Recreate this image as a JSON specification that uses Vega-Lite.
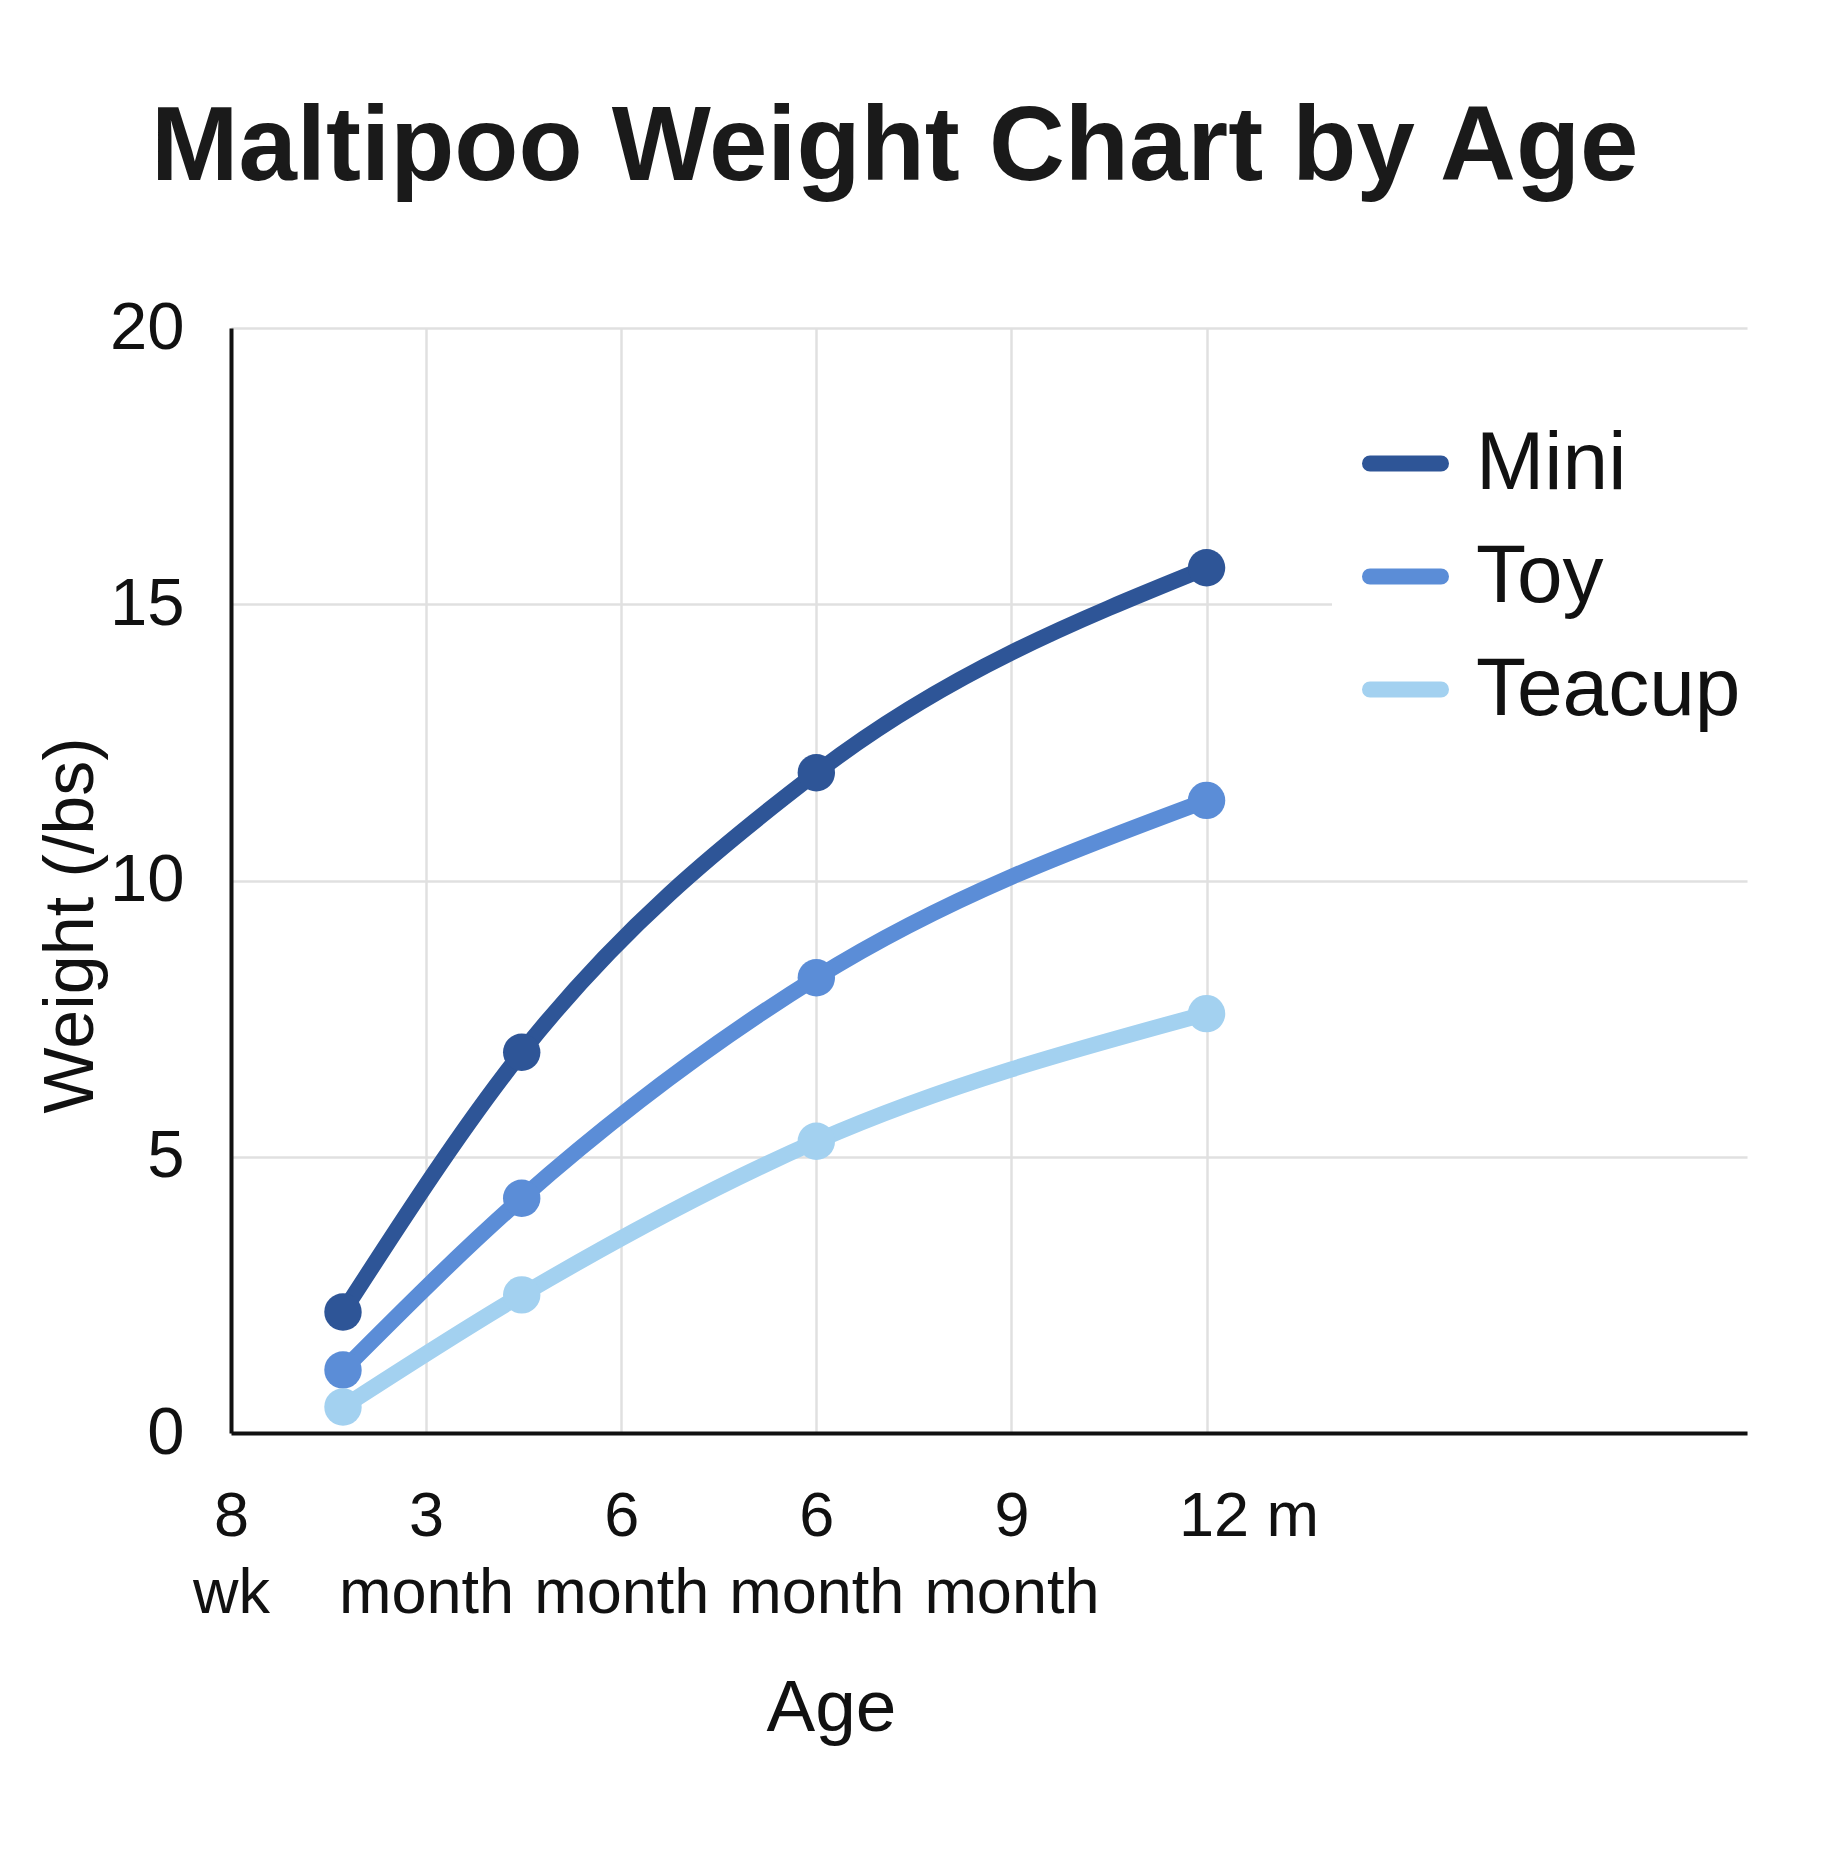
{
  "$schema": "https://vega.github.io/schema/vega-lite/v6.json",
  "width": 1516,
  "height": 1105,
  "autosize": {"type": "none"},
  "padding": {"left": 231, "top": 328, "right": 99, "bottom": 421},
  "background": "white",
  "title": {
    "text": "Maltipoo Weight Chart by Age",
    "anchor": "start",
    "frame": "group",
    "font": "Liberation Sans",
    "fontSize": 105,
    "fontWeight": "bold",
    "color": "#1a1a1a",
    "baseline": "alphabetic",
    "offset": 9,
    "dx": -80
  },
  "config": {"view": {"stroke": null}},
  "data": {
    "values": [
      {"size": "Mini", "age": 0.574, "weight": 2.19},
      {"size": "Mini", "age": 1.49, "weight": 6.89},
      {"size": "Mini", "age": 3, "weight": 11.95},
      {"size": "Mini", "age": 5, "weight": 15.66},
      {"size": "Toy", "age": 0.574, "weight": 1.14},
      {"size": "Toy", "age": 1.49, "weight": 4.25},
      {"size": "Toy", "age": 3, "weight": 8.24},
      {"size": "Toy", "age": 5, "weight": 11.45},
      {"size": "Teacup", "age": 0.574, "weight": 0.47},
      {"size": "Teacup", "age": 1.49, "weight": 2.5},
      {"size": "Teacup", "age": 3, "weight": 5.28},
      {"size": "Teacup", "age": 5, "weight": 7.59}
    ]
  },
  "encoding": {
    "x": {
      "field": "age",
      "type": "quantitative",
      "scale": {"domain": [0, 7.77], "nice": false, "zero": false},
      "axis": {
        "title": "Age",
        "values": [0, 1, 2, 3, 4, 5],
        "labelExpr": "datum.value == 0 ? ['8', 'wk'] : datum.value == 1 ? ['3', 'month'] : datum.value == 2 ? ['6', 'month'] : datum.value == 3 ? ['6', 'month'] : datum.value == 4 ? ['9', 'month'] : '12 m'",
        "labelFont": "Liberation Sans",
        "labelFontSize": 63,
        "labelLineHeight": 77,
        "labelColor": "#111111",
        "labelBaseline": "alphabetic",
        "labelPadding": 102,
        "labelLimit": 0,
        "labelFlush": false,
        "labelOverlap": false,
        "labelBound": false,
        "labelOffset": {"condition": {"test": "datum.value == 5", "value": 42}, "value": 0},
        "ticks": false,
        "tickSize": 0,
        "domainColor": "#111111",
        "domainWidth": 4,
        "gridColor": "#e0e0e0",
        "gridWidth": 2.5,
        "titleFont": "Liberation Sans",
        "titleFontSize": 73,
        "titleFontWeight": "normal",
        "titleColor": "#111111",
        "titleBaseline": "alphabetic",
        "titleAlign": "center",
        "titleX": 600,
        "titleY": 297
      }
    },
    "y": {
      "field": "weight",
      "type": "quantitative",
      "scale": {"domain": [0, 20], "nice": false},
      "axis": {
        "title": "Weight (/bs)",
        "values": [0, 5, 10, 15, 20],
        "labelFont": "Liberation Sans",
        "labelFontSize": 67,
        "labelColor": "#111111",
        "labelPadding": 47,
        "ticks": false,
        "tickSize": 0,
        "domainColor": "#111111",
        "domainWidth": 4,
        "gridColor": "#e0e0e0",
        "gridWidth": 2.5,
        "titleFont": "Liberation Sans",
        "titleFontSize": 70,
        "titleFontWeight": "normal",
        "titleColor": "#111111",
        "titleBaseline": "alphabetic",
        "titleAlign": "center",
        "titleAngle": 270,
        "titleX": -139,
        "titleY": 597
      }
    }
  },
  "layer": [
    {
      "mark": {"type": "line", "interpolate": "monotone", "strokeWidth": 16, "strokeCap": "round", "strokeJoin": "round"},
      "encoding": {
        "color": {
          "field": "size",
          "type": "nominal",
          "scale": {"domain": ["Mini", "Toy", "Teacup"], "range": ["#2E5597", "#5B8DD7", "#A3D1F0"]},
          "legend": {
            "orient": "none",
            "legendX": 1101,
            "legendY": 62,
            "title": null,
            "symbolType": "M-0.96,-0.04L0.96,-0.04A0.04,0.04,0,0,1,0.96,0.04L-0.96,0.04A0.04,0.04,0,0,1,-0.96,-0.04Z",
            "symbolSize": 5476,
            "symbolStrokeWidth": 13,
            "labelFont": "Liberation Sans",
            "labelFontSize": 82,
            "labelColor": "#111111",
            "labelOffset": 27,
            "labelLimit": 0,
            "rowPadding": 28,
            "fillColor": "white",
            "padding": 30
          }
        }
      }
    },
    {
      "mark": {"type": "point", "filled": true, "opacity": 1, "size": 1400},
      "encoding": {
        "color": {
          "field": "size",
          "type": "nominal",
          "scale": {"domain": ["Mini", "Toy", "Teacup"], "range": ["#2E5597", "#5B8DD7", "#A3D1F0"]},
          "legend": null
        }
      }
    }
  ]
}
